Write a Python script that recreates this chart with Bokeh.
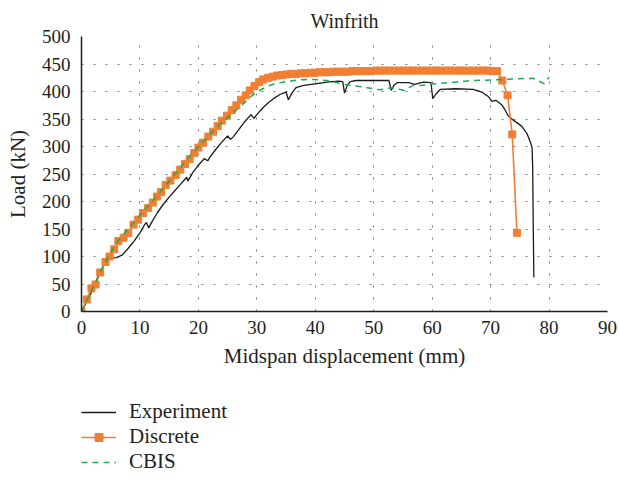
from bokeh.plotting import figure
from bokeh.models import Range1d, Legend, LegendItem, FixedTicker
from bokeh.layouts import column
from bokeh.embed import file_html
from bokeh.resources import INLINE

# ---- data ----
exp_x = [0, 1, 2, 3, 4, 4.5, 5, 6, 7, 8, 9, 10, 10.8, 11.1, 11.5, 12, 13, 14, 15, 16, 17, 18, 18.2, 19, 20, 21,
         21.6, 22, 23, 24, 25, 25.5, 26, 27, 28, 29, 29.5, 30, 31, 32, 33, 34, 35, 35.4, 36, 36.7, 38, 40, 42, 44,
         44.7, 45, 45.5, 46, 47, 52.6, 53, 53.5, 54, 56, 57, 58.5, 59.8, 60.1, 60.6, 61.4, 64, 67, 68.5, 69.7,
         70.2, 70.9, 71.9, 72.5, 73, 74, 75.3, 76.2, 76.8, 77.1, 77.2, 77.3, 77.4]
exp_y = [0, 20, 42, 68, 88, 95, 97, 98, 103, 115, 128, 143, 158, 162, 152, 162, 180, 195, 208, 220, 232, 244, 237,
         252, 266, 278, 274, 281, 295, 308, 319, 313, 318, 332, 346, 358, 351, 358, 370, 380, 388, 395, 399, 385,
         397, 407, 411, 414, 417, 419, 418, 397, 412, 418, 420, 420, 402, 412, 416, 416, 413, 417, 416, 387, 395,
         404, 405, 404, 399, 390, 382, 384, 376, 366, 356, 347, 337, 324, 308, 298, 260, 150, 62]

disc_x = [0, 0.9, 1.7, 2.4, 3.2, 4.1, 4.8, 5.6, 6.3, 7.2, 8.0, 8.9, 9.7, 10.5, 11.4, 12.2, 12.9, 13.6, 14.4,
          15.2, 16.1, 16.9, 17.7, 18.5, 19.3, 20.0, 20.8, 21.7, 22.5, 23.3, 24.0, 24.9, 25.7, 26.5, 27.3, 28.1,
          28.8, 29.6, 30.4, 31.1, 31.9, 32.7, 33.5, 34.3, 35.1, 35.9, 36.7, 37.5, 38.3, 39.1, 39.9, 40.7, 41.5,
          42.3, 43.1, 43.9, 44.7, 45.5, 46.3, 47.1, 47.9, 48.7, 49.5, 50.3, 51.1, 51.9, 52.7, 53.5, 54.3, 55.1,
          55.9, 56.7, 57.5, 58.3, 59.1, 59.9, 60.7, 61.5, 62.3, 63.1, 63.9, 64.7, 65.5, 66.3, 67.1, 67.9, 68.7,
          69.5, 70.3, 71.1, 72.0, 72.9, 73.7, 74.5]
disc_y = [0, 22, 42, 49, 71, 90, 100, 113, 128, 134, 143, 158, 167, 179, 188, 198, 209, 217, 230, 238, 248, 258,
          268, 277, 288, 298, 307, 318, 327, 337, 347, 356, 366, 375, 385, 393, 402, 410, 417, 422, 425, 427, 429,
          430, 431, 432, 432, 433, 433, 434, 434, 435, 435, 435, 436, 436, 436, 436, 437, 437, 437, 437, 437, 438,
          438, 438, 438, 438, 438, 438, 438, 438, 438, 438, 438, 438, 438, 438, 438, 438, 438, 438, 438, 438, 438,
          438, 438, 438, 437, 437, 420, 393, 322, 143]

cbis_x = [0, 2, 4, 6, 8, 10, 12, 14, 16, 18, 20, 22, 24, 25, 26, 27, 28, 29, 30, 31, 32, 33, 35, 37, 39.4, 42,
          44.9, 48.9, 51, 53, 55.3, 56.7, 58, 60.4, 63.8, 67, 70.6, 74, 77.3, 79.2, 80]
cbis_y = [0, 44, 88, 125, 150, 175, 199, 224, 250, 276, 300, 322, 344, 353, 362, 371, 381, 391, 399, 405, 410,
          414, 418, 421, 422, 420, 413, 407, 403, 407, 402, 411, 411, 414, 417, 420, 421, 423, 424, 414, 426]

series_names = ["Experiment", "Discrete", "CBIS"]
x_ticks = [0, 10, 20, 30, 40, 50, 60, 70, 80, 90]
y_ticks = [0, 50, 100, 150, 200, 250, 300, 350, 400, 450, 500]

FONT = "Liberation Serif"
TXT = "#231f20"
ORANGE = "#f07f34"
GREEN = "#1faa52"
BLACK = "#1a1a1a"


def draw_series(fig, msize):
    r1 = fig.line(exp_x, exp_y, line_color=BLACK, line_width=1.3)
    r2 = fig.line(disc_x, disc_y, line_color=ORANGE, line_width=1.6)
    r3 = fig.scatter(disc_x, disc_y, marker="square", size=msize, fill_color=ORANGE, line_color=ORANGE)
    r4 = fig.line(cbis_x, cbis_y, line_color=GREEN, line_width=1.5, line_dash="6 5")
    return r1, r2, r3, r4


p = figure(frame_width=526, frame_height=275, output_backend="svg", toolbar_location=None,
           x_range=Range1d(0, 90), y_range=Range1d(0, 500),
           min_border_left=81, min_border_right=12, min_border_top=36, min_border_bottom=69,
           title="Winfrith")
p.outline_line_color = None
p.background_fill_color = "white"
p.border_fill_color = "white"

p.title.text_font = FONT
p.title.text_font_size = "20px"
p.title.text_font_style = "normal"
p.title.text_color = TXT
p.title.align = "center"

for ax in (p.xaxis[0], p.yaxis[0]):
    ax.major_tick_line_color = None
    ax.minor_tick_line_color = None
    ax.axis_line_color = "#231f20"
    ax.axis_line_width = 1.5
    ax.major_label_text_font = FONT
    ax.major_label_text_font_size = "19px"
    ax.major_label_text_color = TXT
    ax.axis_label_text_font = FONT
    ax.axis_label_text_font_size = "21px"
    ax.axis_label_text_font_style = "normal"
    ax.axis_label_text_color = TXT

p.xaxis[0].ticker = FixedTicker(ticks=x_ticks)
p.yaxis[0].ticker = FixedTicker(ticks=y_ticks)
p.xaxis[0].axis_label = "Midspan displacement (mm)"
p.yaxis[0].axis_label = "Load (kN)"
p.xaxis[0].major_label_standoff = 3
p.yaxis[0].major_label_standoff = 5
p.xaxis[0].axis_label_standoff = 7
p.yaxis[0].axis_label_standoff = 9

p.xgrid.ticker = FixedTicker(ticks=x_ticks)
p.ygrid.ticker = FixedTicker(ticks=y_ticks)
for g in (p.xgrid[0], p.ygrid[0]):
    g.grid_line_color = "#7a7a7a"
    g.grid_line_dash = "2 10"
    g.grid_line_width = 1

draw_series(p, 7)

# ---- legend strip below the chart (series drawn out of view; only the legend shows) ----
q = figure(width=619, height=104, output_backend="svg", toolbar_location=None,
           x_axis_type=None, y_axis_type=None, min_border=0,
           x_range=Range1d(1000, 1001), y_range=Range1d(1000, 1001))
q.outline_line_color = None
q.grid.visible = False
q.background_fill_color = "white"
q.border_fill_color = "white"
l_exp, l_disc, m_disc, l_cbis = draw_series(q, 5)

legend = Legend(items=[
    LegendItem(label=series_names[0], renderers=[l_exp]),
    LegendItem(label=series_names[1], renderers=[l_disc, m_disc]),
    LegendItem(label=series_names[2], renderers=[l_cbis]),
], location=(0, 10), orientation="vertical")
legend.label_text_font = FONT
legend.label_text_font_size = "21px"
legend.label_text_color = TXT
legend.border_line_color = None
legend.background_fill_alpha = 0
legend.glyph_width = 35
legend.glyph_height = 20
legend.label_height = 20
legend.label_standoff = 13
legend.spacing = 0
legend.padding = 0
legend.margin = 0
q.add_layout(legend)

layout = column(p, q, spacing=0)
open("out.html", "w").write(file_html(layout, INLINE))
